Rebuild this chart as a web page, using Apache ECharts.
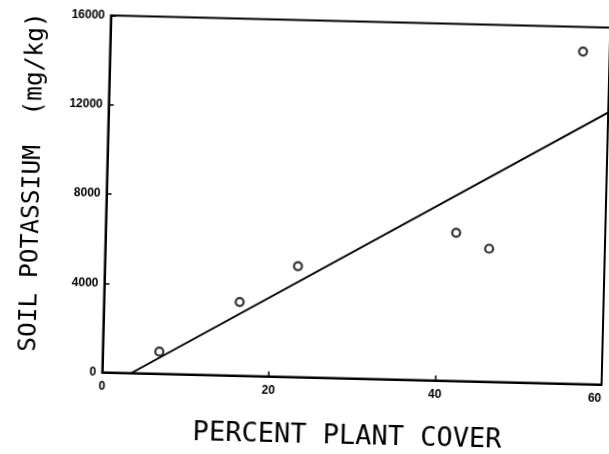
<!DOCTYPE html>
<html>
<head>
<meta charset="utf-8">
<script src="https://cdn.jsdelivr.net/npm/echarts@6/dist/echarts.min.js"></script>
<style>
  html, body { margin: 0; padding: 0; background: #ffffff; overflow: hidden; }
  #chart { width: 609px; height: 454px; transform: rotate(1.4deg); transform-origin: 357px 200px; }
</style>
</head>
<body>
<div id="chart"></div>
<script>
// Data
const coverPct = [6.8, 16.3, 23.2, 42.1, 46.1, 56.8];
const potassium = [990, 3300, 4970, 6640, 5960, 14900];
const fitX = [3.5, 60];
const fitY = [0, 12200];
const xTitle = 'PERCENT PLANT COVER';
const yTitle = 'SOIL POTASSIUM  (mg/kg)';

const chart = echarts.init(document.getElementById('chart'), null, { renderer: 'canvas' });
const tickFont = { fontFamily: 'Liberation Sans', fontWeight: 'bold', fontSize: 12, color: '#000', formatter: v => String(v) };

chart.setOption({
  animation: false,
  backgroundColor: '#ffffff',
  grid: { left: 106.5, right: 1.5, top: 21.5, bottom: 75.5, show: true, borderColor: '#000', borderWidth: 2, backgroundColor: 'transparent' },
  xAxis: {
    type: 'value', min: 0, max: 60, interval: 20,
    axisLine: { show: true, onZero: false, lineStyle: { color: '#000', width: 2 } },
    axisTick: { show: true, inside: true, length: 5, lineStyle: { color: '#000', width: 1.5 } },
    splitLine: { show: false },
    axisLabel: Object.assign({ margin: 8, alignMaxLabel: 'right' }, tickFont)
  },
  yAxis: {
    type: 'value', min: 0, max: 16000, interval: 4000,
    axisLine: { show: true, onZero: false, lineStyle: { color: '#000', width: 2 } },
    axisTick: { show: true, inside: true, length: 5, lineStyle: { color: '#000', width: 1.5 } },
    splitLine: { show: false },
    axisLabel: Object.assign({ margin: 6 }, tickFont)
  },
  graphic: [
    { type: 'text', x: 352.8, y: 437.2, style: { text: xTitle, font: '27px "DejaVu Sans Mono"', fill: '#000', textAlign: 'center', textVerticalAlign: 'middle' } },
    { type: 'text', x: 32.6, y: 190, rotation: Math.PI / 2, style: { text: yTitle, font: '24.5px "DejaVu Sans Mono"', fill: '#000', textAlign: 'center', textVerticalAlign: 'middle' } }
  ],
  series: [
    {
      type: 'line',
      data: fitX.map((x, i) => [x, fitY[i]]),
      showSymbol: false,
      lineStyle: { color: '#000', width: 2 },
      silent: true
    },
    {
      type: 'scatter',
      data: coverPct.map((x, i) => [x, potassium[i]]),
      symbol: 'circle',
      symbolSize: 8,
      itemStyle: { color: '#fff', borderColor: '#000', borderWidth: 2.2 },
      silent: true
    }
  ]
});
</script>
</body>
</html>
